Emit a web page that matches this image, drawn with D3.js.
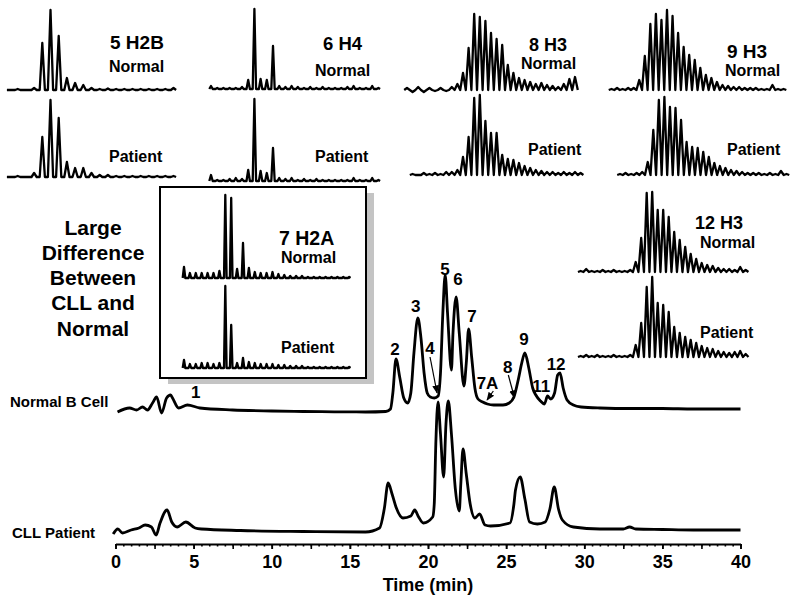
<!DOCTYPE html>
<html><head><meta charset="utf-8">
<script src="https://cdn.jsdelivr.net/npm/d3@7"></script>
<style>
body{margin:0;background:#fff;}
svg{display:block;font-family:"Liberation Sans",Arial,sans-serif;font-weight:bold;}
</style></head>
<body><svg id="c" width="800" height="606"></svg>
<script>
// ---------------- DATA ----------------
// Chromatogram: retention time (min) and absorbance (arbitrary units)
const normalTime = [0.13,0.9,1.35,1.73,2.05,2.37,2.63,2.95,3.27,3.53,3.65,4.04,4.6,5.4,7.5,10,12,14,16,17.3,17.6,17.75,17.95,18.2,18.45,18.7,18.9,19.1,19.35,19.55,19.75,19.95,20.15,20.4,20.65,20.8,20.95,21.1,21.25,21.5,21.6,21.8,22.0,22.3,22.45,22.6,22.8,23.0,23.2,23.5,23.8,24.2,24.8,25.2,25.5,25.8,26.0,26.2,26.45,26.7,26.9,27.2,27.45,27.65,27.85,28.1,28.3,28.45,28.65,28.9,29.3,29.8,31,33,35,37,40];
const normalSignal = [1,5,3,6,3,10,16,0,15,18,15,5,8,5,3,2,1.5,1.2,1,1.5,4,20,54,35,15,10,20,60,95,75,40,20,16,15,17,40,100,138,100,43,80,116,80,27,50,84,55,25,14,11,9,8,8,10,16,35,50,60,45,25,18,12,9,17,14,20,38,40,25,13,8,6,5,4.5,4.5,4,4];
const cllTime = [-0.15,0.15,0.45,1.0,1.5,1.9,2.3,2.6,2.85,3.3,3.6,3.95,4.5,5.1,5.5,8,12,16,16.9,17.2,17.45,17.7,17.95,18.4,18.9,19.15,19.4,19.7,20.3,20.4,20.5,20.64,20.8,21.0,21.15,21.3,21.5,21.75,22.0,22.1,22.24,22.45,22.7,23.0,23.3,23.65,24,25.25,25.5,25.6,25.9,26.2,26.5,27.0,27.5,27.8,28.08,28.35,28.6,29.3,31,32.5,32.9,33.3,35,37,40];
const cllSignal = [0,5,1,4,6,9,7,-1,11,24,12,7,12,6,5,3.5,2.5,2,6,25,51,40,27,16,18,24,17,11,17,30,90,132,100,57,110,133,100,45,23,50,85,60,30,16,20,9,8,11,30,44,57,35,12,10,12,25,47,25,14,7,5,5,7,5,4.5,4,4];

// Axis
const tickValues = [0,5,10,15,20,25,30,35,40];
const tickLabels = ["0","5","10","15","20","25","30","35","40"];

// Peak labels on the Normal B Cell trace (time, signal)
const peakNames = ["1","2","3","4","5","6","7","7A","8","9","11","12"];
const peakTimes = [5.13,17.88,19.21,20.13,21.09,21.92,22.82,23.81,25.1,26.15,27.24,28.2];
const peakLevels = [15,58,101,59,138,128,91,24,40,68,21,43];
// Arrows: [t, signal] start and end
const arrowPeaks = ["4","7A","8"];
const arrowFrom = [[20.13,56],[24.18,22],[25.14,38]];
const arrowTo = [[20.58,20],[23.78,13],[25.54,15]];

// Mass spectra (peak intensities on an evenly spaced charge-state grid)
const h2bNormal  = [0,1,0,2,47,80,54,12,7,5,2,1,1.5,1,1,1,1,1,1,1,2];
const h2bPatient = [0,1,0,4,40,77,59,15,9,9,4,2,2,1,1,1,1,1,1,1,1];
const h4Normal   = [3,1,1,1,1,2,9,80,10,9,43,3,2,3,2,1,2,1,2,1,1,1,2,3,1,1,3,1];
const h4Patient  = [6,1,1,2,3,2,11,82,10,8,33,3,2,3,1,2,1,2,1,1,1,1,1,3,1,1,3,1];
const h3aNormal  = [2,-2,3,-2,2,-1,2,-1,3,6,17,42,76,73,69,57,51,45,25,17,12,10,8,6,7,5,4,3,6,11,13];
const h3aPatient = [1,0,2,1,2,1,3,3,5,18,38,77,80,54,42,42,20,16,15,12,9,7,5,4,3,3,2,3,2,3,2];
const h3bNormal  = [1,2,1,2,2,10,34,66,76,70,80,74,57,43,35,30,22,15,12,8,5,4,3,3,2,2,2,1,1,5,1,1];
const h3bPatient = [1,2,1,2,3,13,45,75,78,68,67,55,33,28,27,23,18,12,9,7,5,4,3,2,2,2,1,2,1,4,1];
const h3cNormal  = [1,3,1,1,2,1,2,1,1,2,10,34,79,80,62,62,55,40,32,25,18,13,9,7,6,4,3,3,2,5,2];
const h3cPatient = [1,2,1,2,1,1,2,1,1,2,12,34,70,80,54,52,45,30,24,20,17,14,11,9,8,6,5,4,5,6,3];
const h2aNormal  = [11,5,5,5,5,5,7,83,80,9,35,10,6,5,5,6,4,3,2,2,2,1,1,1,1,1,1,1,1];
const h2aPatient = [8,4,4,5,5,4,5,82,43,5,10,6,5,4,4,4,3,3,2,2,2,1,1,1,1,1,1,1,1];

const spectrumTitles = ["5 H2B","6 H4","8 H3","9 H3","12 H3","7 H2A"];
const conditionNames = ["Normal","Patient"];
const traceNames = ["Normal B Cell","CLL Patient"];
const noteLines = ["Large","Difference","Between","CLL and","Normal"];

// ---------------- LAYOUT ----------------
const svg = d3.select("#c");
const x = d3.scaleLinear().domain([0,40]).range([115.5,740.5]);
const yN = d3.scaleLinear().domain([0,150]).range([413,263]);
const yC = d3.scaleLinear().domain([0,150]).range([534,384]);

// inset box
svg.append("rect").attr("x",168).attr("y",193).attr("width",206).attr("height",191).attr("fill","#c4c4c4");
svg.append("rect").attr("x",160).attr("y",187).attr("width",206).attr("height",191).attr("fill","#fff").attr("stroke","#000").attr("stroke-width",2);

// spectra
const spectra = [
  {data:h2bNormal, x0:9.5, dx:8.2, w:2.6, base:90},
  {data:h2bPatient,x0:9.5, dx:8.2, w:2.6, base:177},
  {data:h4Normal,  x0:211, dx:6.2, w:1.7, base:89},
  {data:h4Patient, x0:211, dx:6.2, w:1.7, base:181},
  {data:h3aNormal, x0:407, dx:5.6, w:2.8, base:90},
  {data:h3aPatient,x0:412.6,dx:5.6,w:2.8, base:175},
  {data:h3bNormal, x0:611.5,dx:5.55,w:2.78,base:90},
  {data:h3bPatient,x0:620, dx:5.55,w:2.78,base:175},
  {data:h3cNormal, x0:580.7,dx:5.5,w:2.75,base:272},
  {data:h3cPatient,x0:580.7,dx:5.5,w:2.75,base:357},
  {data:h2aNormal, x0:184, dx:5.9, w:1.3, base:278},
  {data:h2aPatient,x0:184, dx:5.9, w:1.3, base:368}
];
spectra.forEach(s=>{
  const n = s.data.length;
  const sx = d3.scaleLinear().domain([0,n-1]).range([s.x0, s.x0+(n-1)*s.dx]);
  const sy = d3.scaleLinear().domain([0,80]).range([s.base, s.base-80]);
  const pts = [];
  s.data.forEach((h,i)=>{
    pts.push([sx(i)-s.w, sy(0)]);
    pts.push([sx(i), sy(h)]);
    pts.push([sx(i)+s.w, sy(0)]);
  });
  svg.append("path").attr("d", d3.line()(pts)).attr("fill","none")
    .attr("stroke","#000").attr("stroke-width",2.3).attr("stroke-linejoin","round");
});

// spectrum titles
const titlePos = [[110,49,19],[323,50,18.5],[529,51,18],[727,58,19],[695,229,18],[279,245,19.5]];
spectrumTitles.forEach((t,i)=>{
  svg.append("text").attr("x",titlePos[i][0]).attr("y",titlePos[i][1]).attr("font-size",titlePos[i][2]).text(t);
});
const condPos = [
  [[109,72],[109,162]],[[315,76],[315,162]],[[521,69],[528,155]],
  [[725,76],[727,155]],[[700,248],[700,338]],[[281,263],[281,353]]
];
condPos.forEach(p=>{
  p.forEach((q,j)=>svg.append("text").attr("x",q[0]).attr("y",q[1]).attr("font-size",16).text(conditionNames[j]));
});

// note text
noteLines.forEach((t,i)=>{
  svg.append("text").attr("x",93).attr("y",234.5+i*25.3).attr("text-anchor","middle").attr("font-size",21).text(t);
});

// chromatograms
const line = (ys)=>d3.line().x(d=>x(d[0])).y(d=>ys(d[1])).curve(d3.curveMonotoneX);
svg.append("path").attr("d", line(yN)(normalTime.map((t,i)=>[t,normalSignal[i]])))
  .attr("fill","none").attr("stroke","#000").attr("stroke-width",2.8).attr("stroke-linejoin","round");
svg.append("path").attr("d", line(yC)(cllTime.map((t,i)=>[t,cllSignal[i]])))
  .attr("fill","none").attr("stroke","#000").attr("stroke-width",2.8).attr("stroke-linejoin","round");

svg.append("text").attr("x",10).attr("y",407).attr("font-size",15).text(traceNames[0]);
svg.append("text").attr("x",12).attr("y",538).attr("font-size",15).text(traceNames[1]);

// peak labels
peakNames.forEach((p,i)=>{
  svg.append("text").attr("x",x(peakTimes[i])).attr("y",yN(peakLevels[i]))
    .attr("text-anchor","middle").attr("font-size",17).text(p);
});
// arrows
const defs = svg.append("defs");
defs.append("marker").attr("id","ah").attr("viewBox","0 0 10 10").attr("refX",9).attr("refY",5)
  .attr("markerWidth",7).attr("markerHeight",7).attr("orient","auto")
  .append("path").attr("d","M0,1 L10,5 L0,9 Z").attr("fill","#000");
arrowPeaks.forEach((p,i)=>{
  svg.append("line").attr("x1",x(arrowFrom[i][0])).attr("y1",yN(arrowFrom[i][1]))
    .attr("x2",x(arrowTo[i][0])).attr("y2",yN(arrowTo[i][1]))
    .attr("stroke","#000").attr("stroke-width",1.2).attr("marker-end","url(#ah)");
});

// axis
const axY = 544;
const gMinor = svg.append("g").attr("transform",`translate(0,${axY})`)
  .call(d3.axisBottom(x).tickValues(d3.range(0,40.01,0.5)).tickSize(2.5).tickSizeOuter(0).tickFormat(""));
gMinor.select(".domain").remove();
const gMid = svg.append("g").attr("transform",`translate(0,${axY})`)
  .call(d3.axisBottom(x).tickValues(d3.range(0,40.01,2.5)).tickSize(5).tickSizeOuter(0).tickFormat(""));
gMid.select(".domain").remove();
const gAx = svg.append("g").attr("transform",`translate(0,${axY})`)
  .call(d3.axisBottom(x).tickValues(tickValues).tickSize(5).tickSizeOuter(0).tickPadding(6)
    .tickFormat((d,i)=>tickLabels[i]));
gAx.select(".domain").attr("stroke-width",2.2);
svg.selectAll(".tick line").attr("stroke-width",1.6);
gAx.selectAll("text").attr("font-size",18).attr("font-family","Liberation Sans, Arial, sans-serif").attr("font-weight","bold").attr("fill","#000");
svg.append("text").attr("x",428).attr("y",591).attr("text-anchor","middle").attr("font-size",18).text("Time (min)");
</script></body></html>
